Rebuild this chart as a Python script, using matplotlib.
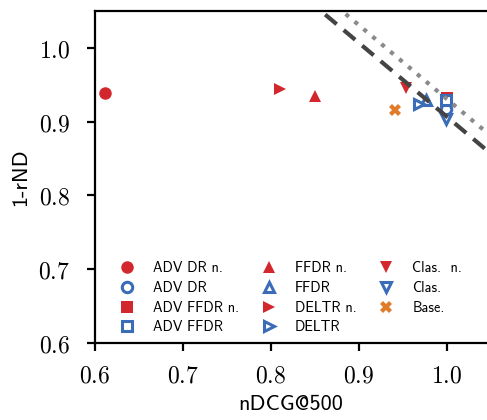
import matplotlib
matplotlib.use("Agg")
from matplotlib import pyplot, rcParams
from matplotlib.ticker import FuncFormatter

rcParams.update({"mathtext.fontset": "cm"})

# Scatter data: (label, x = nDCG@500, y = 1-rND)
labels = ["ADV DR n.", "ADV DR", "ADV FFDR n.", "ADV FFDR",
          "FFDR n.", "FFDR", "DELTR n.", "DELTR",
          "Clas.  n.", "Clas.", "Base."]
ndcg = [0.611, 0.999, 1.001, 0.999,
        0.850, 0.977, 0.810, 0.969,
        0.954, 0.999, 0.941]
rnd = [0.939, 0.917, 0.932, 0.929,
       0.935, 0.930, 0.944, 0.924,
       0.946, 0.904, 0.916]
markers = ["o", "o", "s", "s", "^", "^", ">", ">", "v", "v", "X"]
normalized = [True, False, True, False, True, False, True, False,
              True, False, None]

# Reference lines x + y = const
dashed_sum = 1.907
dotted_sum = 1.931

x_ticks = [0.6, 0.7, 0.8, 0.9, 1.0]
y_ticks = [0.6, 0.7, 0.8, 0.9, 1.0]

RED = "#d3272e"
BLUE = "#3a6cb8"
ORANGE = "#e07b2a"
SANS = "cmss10"

figure = pyplot.figure(figsize=(4.87, 4.20), dpi=100)
axes = figure.add_axes([0.195, 0.183, 0.805, 0.791])

for label, x, y, marker, norm in zip(labels, ndcg, rnd, markers, normalized):
    if norm is None:
        axes.plot(x, y, marker=marker, color=ORANGE, markersize=9,
                  markeredgewidth=0, linestyle="none", label=label)
    elif norm:
        axes.plot(x, y, marker=marker, color=RED, markersize=9,
                  markeredgewidth=0, linestyle="none", label=label)
    else:
        axes.plot(x, y, marker=marker, color=BLUE, markerfacecolor="white",
                  markersize=7.5, markeredgewidth=2.2, linestyle="none",
                  label=label)

xs = [0.6, 1.1]
axes.plot(xs, [dashed_sum - x for x in xs], color="#444444", linewidth=3,
          linestyle=(0, (3.6, 2.2)), zorder=5)
axes.plot(xs, [dotted_sum - x for x in xs], color="#8a8a8a", linewidth=3,
          linestyle=(0, (1, 1.8)), zorder=5)

axes.set_xlim(0.6, 1.046)
axes.set_ylim(0.6, 1.05)
axes.set_xticks(x_ticks)
axes.set_yticks(y_ticks)
fmt = FuncFormatter(lambda v, _: "$%.1f$" % v)
axes.xaxis.set_major_formatter(fmt)
axes.yaxis.set_major_formatter(fmt)
axes.tick_params(labelsize=17, width=1.6, length=6)
axes.tick_params(axis="y", pad=12)
axes.tick_params(axis="x", pad=9)
axes.set_xlabel("nDCG@500", fontsize=16, family=SANS, labelpad=5)
axes.set_ylabel("1-rND", fontsize=16, family=SANS, labelpad=6)

for side in ["left", "bottom", "top"]:
    axes.spines[side].set_linewidth(1.6)
axes.spines["right"].set_visible(False)

axes.legend(ncol=3, loc="lower left", frameon=False,
            prop={"family": SANS, "size": 10.3},
            bbox_to_anchor=(0.013, -0.012), handletextpad=0.8,
            columnspacing=1.1, labelspacing=0.4, borderaxespad=0.5)

figure.savefig("out.png", dpi=100)
